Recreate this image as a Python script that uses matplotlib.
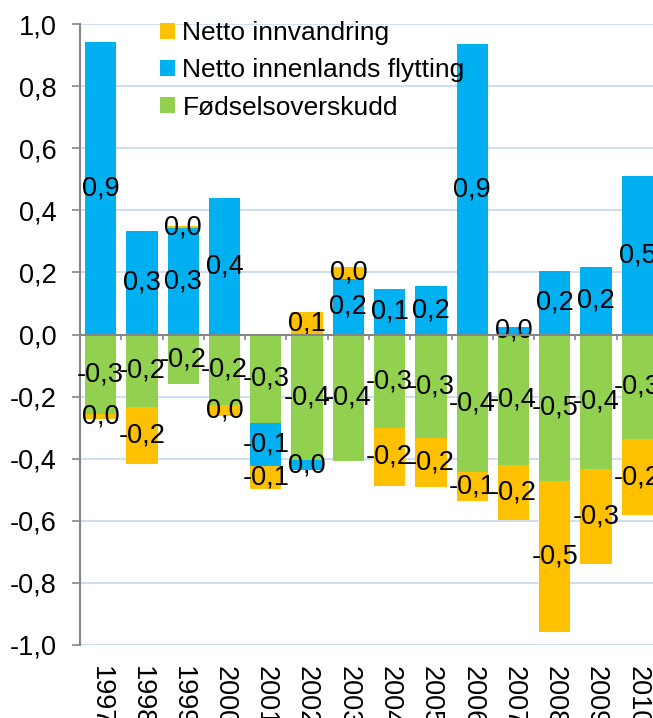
import matplotlib.pyplot as plt
import numpy as np

plt.rcParams['font.family'] = ['Liberation Sans', 'DejaVu Sans']

# --- data ---
years = ['1997', '1998', '1999', '2000', '2001', '2002', '2003',
         '2004', '2005', '2006', '2007', '2008', '2009', '2010']
fodselsoverskudd = [-0.256, -0.234, -0.159, -0.226, -0.286, -0.404, -0.406,
                    -0.301, -0.333, -0.444, -0.420, -0.473, -0.433, -0.337]
innenlands = [0.941, 0.332, 0.344, 0.440, -0.139, -0.034, 0.180,
              0.145, 0.156, 0.935, 0.024, 0.203, 0.216, 0.511]
innvandring = [-0.016, -0.184, 0.004, -0.035, -0.073, 0.072, 0.037,
               -0.187, -0.159, -0.091, -0.179, -0.485, -0.307, -0.245]

# stacking order: green first, then blue, then orange (Excel style)
series = [
    ('Fødselsoverskudd', fodselsoverskudd, '#92D050'),
    ('Netto innenlands flytting', innenlands, '#00B0F0'),
    ('Netto innvandring', innvandring, '#FFC000'),
]


def fmt(v):
    # one decimal, comma, no "-0,0"
    if round(v, 1) == 0:
        v = 0.0
    return f"{v:.1f}".replace('.', ',')


fs = 19.5
fig = plt.figure(figsize=(6.53, 7.18), dpi=100)
ax = fig.add_axes([80 / 653, 73 / 718, 578 / 653, 621 / 718])

x = np.arange(len(years))
pos_base = np.zeros(len(years))
neg_base = np.zeros(len(years))
handles = {}
for name, vals, color in series:
    vals = np.array(vals)
    bottom = np.where(vals >= 0, pos_base, neg_base)
    bars = ax.bar(x, vals, 0.76, bottom=bottom, color=color, label=name,
                  zorder=2, linewidth=0)
    handles[name] = bars
    for xi, b, v in zip(x, bottom, vals):
        ax.text(xi, b + v / 2, fmt(v), ha='center', va='center',
                fontsize=fs, zorder=3)
    pos_base = pos_base + np.where(vals >= 0, vals, 0)
    neg_base = neg_base + np.where(vals < 0, vals, 0)

# axes styling
ax.set_ylim(-1.0, 1.0)
ax.set_xlim(-0.5, len(years) - 0.5)
yt = np.round(np.arange(-1.0, 1.01, 0.2), 1)
ax.set_yticks(yt)
ax.set_yticklabels([fmt(v) for v in yt], fontsize=fs)
ax.yaxis.grid(True, color='#C6D9F1', linewidth=1.2, zorder=0)
ax.set_axisbelow(True)

ax.spines['top'].set_visible(False)
ax.spines['right'].set_visible(False)
ax.spines['left'].set_color('#868686')
ax.spines['left'].set_linewidth(1.5)
ax.spines['bottom'].set_position(('data', 0))
ax.spines['bottom'].set_color('#868686')
ax.spines['bottom'].set_linewidth(1.5)
ax.spines['bottom'].set_zorder(4)
ax.tick_params(axis='y', length=6, width=1.2, color='#868686', pad=11)

ax.set_xticks(x)
ax.set_xticklabels(years, rotation=-90, fontsize=fs)
ax.set_xticks(np.arange(-0.5, len(years), 1.0), minor=True)
ax.tick_params(axis='x', which='major', length=0, pad=239)
ax.tick_params(axis='x', which='minor', length=3.8, width=1.2,
               color='#868686', direction='out')

names = ['Netto innvandring', 'Netto innenlands flytting', 'Fødselsoverskudd']
leg = ax.legend([handles[n] for n in names], names, loc='upper left',
                bbox_to_anchor=(0.111, 1.03), frameon=False,
                fontsize=19, handlelength=0.55, handleheight=0.55,
                handletextpad=0.3, labelspacing=0.5, borderpad=0.1)

fig.savefig('out.png', dpi=100)
